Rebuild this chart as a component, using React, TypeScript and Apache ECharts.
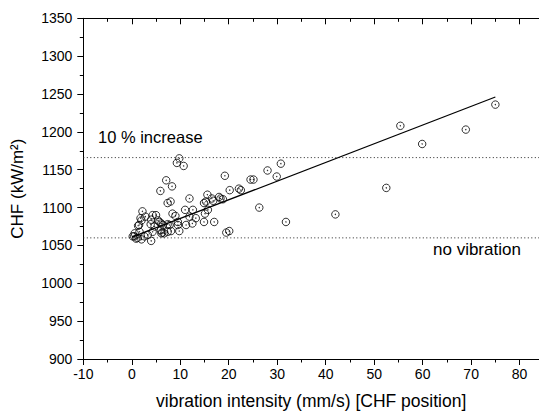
import React, { useEffect, useRef } from "react";
import * as echarts from "echarts";

// measured points [vibration intensity (mm/s), CHF (kW/m2)]
const points: number[][] = [
  [75.0, 1236], [55.4, 1208], [68.9, 1203], [59.9, 1184], [52.5, 1126], [42.0, 1091],
  [31.8, 1081], [26.3, 1100], [30.75, 1158], [28.0, 1149], [29.9, 1141], [24.5, 1137],
  [25.1, 1137], [19.2, 1142], [20.2, 1123], [22.1, 1125], [22.5, 1123], [19.5, 1067],
  [20.1, 1069], [18.3, 1112], [18.8, 1111],
  [9.8, 1165], [9.3, 1159], [10.7, 1155], [7.1, 1136], [8.3, 1128], [5.9, 1122],
  [11.9, 1112], [8.0, 1108], [7.4, 1106], [15.6, 1117], [14.9, 1106], [16.8, 1109],
  [18.0, 1114], [16.5, 1112], [15.3, 1108], [15.7, 1097], [15.1, 1092], [11.0, 1097],
  [12.6, 1097], [11.9, 1088], [13.2, 1086], [14.9, 1081], [17.0, 1081], [12.5, 1079],
  [11.2, 1077], [9.0, 1089], [8.4, 1092], [9.5, 1081], [9.8, 1069], [7.8, 1077],
  [8.1, 1069], [9.5, 1077], [6.3, 1067], [7.4, 1068],
  [2.2, 1095], [2.8, 1088], [2.0, 1083], [1.3, 1076], [1.6, 1068], [0.6, 1066],
  [0.2, 1062], [0.9, 1059], [2.0, 1058], [2.6, 1062], [3.3, 1064], [4.0, 1056],
  [4.3, 1068], [4.7, 1075], [3.9, 1078], [4.3, 1090], [5.0, 1090], [5.4, 1083],
  [6.4, 1077], [6.1, 1066], [6.7, 1066], [4.0, 1084], [5.7, 1081], [7.4, 1078],
  [6.0, 1070], [1.5, 1077], [1.8, 1086], [6.1, 1079], [0.5, 1062], [1.2, 1060],
];

// linear fit endpoints
const fitLine: number[][] = [[0, 1061], [75, 1246]];

// reference levels
const noVibration = 1060;
const tenPercent = 1166;

const xMin = -10;
const xMax = 84;
const xInterval = 10;
const yMin = 900;
const yMax = 1350;
const yInterval = 50;

const FONT = "'Liberation Sans', Arial, sans-serif";

export default function App() {
  const ref = useRef<HTMLDivElement>(null);

  useEffect(() => {
    if (!ref.current) return;
    const chart = echarts.init(ref.current, undefined, { renderer: "svg" });

    const tickLabel = { color: "#000", fontSize: 14, fontFamily: FONT, formatter: (v: number) => String(v) };
    const axisLine = { show: true, onZero: false, lineStyle: { color: "#000", width: 1 } };

    chart.setOption({
      animation: false,
      backgroundColor: "#fff",
      grid: { left: 83.3, top: 18.3, right: -3.3, bottom: 57, containLabel: false },
      xAxis: [
        {
          type: "value",
          min: xMin,
          max: xMax,
          interval: xInterval,
          position: "bottom",
          name: "vibration intensity (mm/s) [CHF position]",
          nameLocation: "middle",
          nameGap: 33,
          nameTextStyle: { color: "#000", fontSize: 17.5, fontFamily: FONT },
          axisLine,
          axisTick: { show: true, inside: false, length: 6, lineStyle: { color: "#000" } },
          minorTick: { show: true, splitNumber: 2, length: 3.5, lineStyle: { color: "#000" } },
          axisLabel: { ...tickLabel, margin: 8, showMaxLabel: false },
          splitLine: { show: false },
        },
        {
          type: "value",
          min: xMin,
          max: xMax,
          interval: xInterval,
          position: "top",
          axisLine,
          axisTick: { show: true, inside: true, length: 6, lineStyle: { color: "#000" } },
          minorTick: { show: true, splitNumber: 2, length: 3.5, lineStyle: { color: "#000" } },
          axisLabel: { show: false },
          splitLine: { show: false },
        },
      ],
      yAxis: {
        type: "value",
        min: yMin,
        max: yMax,
        interval: yInterval,
        name: "CHF (kW/m²)",
        nameLocation: "middle",
        nameGap: 57,
        nameTextStyle: { color: "#000", fontSize: 17, fontFamily: FONT },
        axisLine,
        axisTick: { show: true, inside: false, length: 6, lineStyle: { color: "#000" } },
        minorTick: { show: true, splitNumber: 2, length: 3.5, lineStyle: { color: "#000" } },
        axisLabel: { ...tickLabel, margin: 11 },
        splitLine: { show: false },
      },
      graphic: [
        {
          type: "text",
          left: 98,
          top: 128,
          style: { text: "10 % increase", fill: "#000", fontSize: 16.5, fontFamily: FONT },
        },
        {
          type: "text",
          left: 433,
          top: 241,
          style: { text: "no vibration", fill: "#000", fontSize: 17, fontFamily: FONT },
        },
      ],
      series: [
        {
          type: "line",
          data: [[xMin, noVibration], [xMax, noVibration]],
          symbol: "none",
          silent: true,
          lineStyle: { color: "#222", width: 1, type: [1, 2.5] },
        },
        {
          type: "line",
          data: [[xMin, tenPercent], [xMax, tenPercent]],
          symbol: "none",
          silent: true,
          lineStyle: { color: "#222", width: 1, type: [1, 2.5] },
        },
        {
          type: "line",
          data: fitLine,
          symbol: "none",
          lineStyle: { color: "#000", width: 1.2 },
        },
        {
          type: "scatter",
          data: points,
          symbol: "circle",
          symbolSize: 7.5,
          itemStyle: { color: "rgba(255,255,255,0)", borderColor: "#000", borderWidth: 1 },
        },
        {
          type: "scatter",
          data: points,
          symbol: "circle",
          symbolSize: 1.4,
          silent: true,
          itemStyle: { color: "#000" },
        },
      ],
    });

    return () => chart.dispose();
  }, []);

  return (
    <div
      ref={ref}
      style={{ position: "fixed", left: 0, top: 0, width: 539, height: 416, background: "#fff" }}
    />
  );
}
